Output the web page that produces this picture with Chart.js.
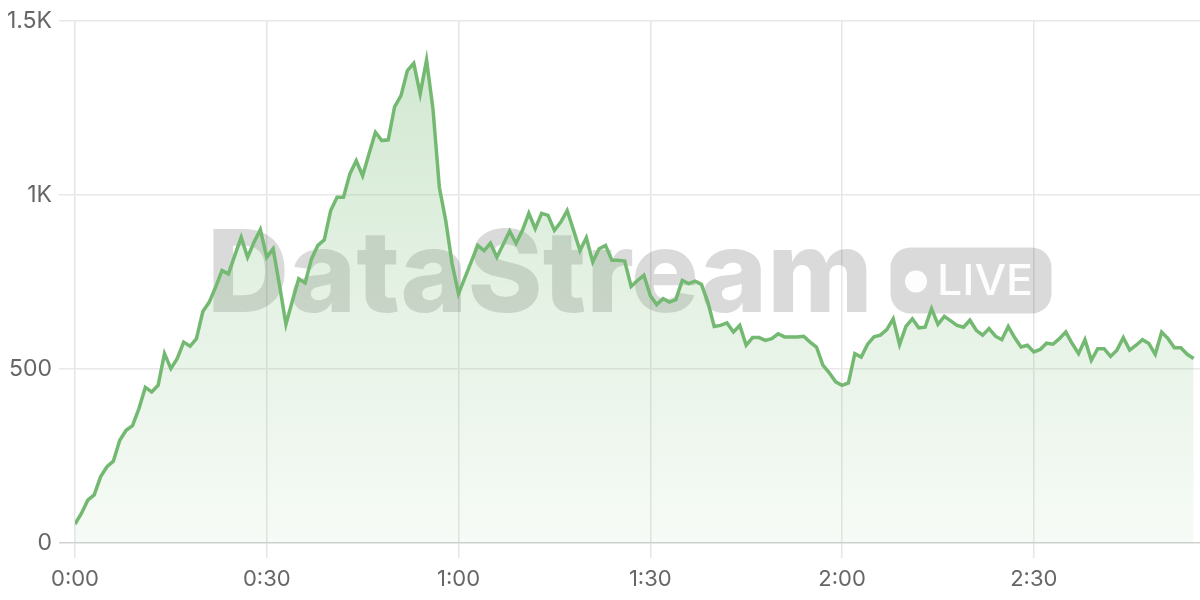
<!DOCTYPE html>
<html>
<head>
<meta charset="utf-8">
<title>DataStream LIVE</title>
<script src="https://cdn.jsdelivr.net/npm/chart.js@4/dist/chart.umd.min.js"></script>
<style>
  html, body { margin: 0; padding: 0; background: #fff; }
  #wrap { width: 1200px; height: 600px; position: relative; }
</style>
</head>
<body>
<div id="wrap"><canvas id="chart"></canvas></div>
<script>
// Valores por segundo
const values = [
  54, 85, 123, 138, 190, 219, 235, 295, 324, 337,
  386, 447, 434, 453, 544, 501, 530, 577, 565, 587,
  665, 692, 735, 783, 773, 826, 878, 821, 864, 900,
  821, 845, 740, 628, 695, 759, 747, 816, 855, 871,
  955, 993, 993, 1060, 1098, 1055, 1118, 1180, 1156, 1158,
  1253, 1285, 1357, 1378, 1290, 1387, 1247, 1022, 926, 802,
  716, 762, 808, 855, 840, 861, 821, 858, 896, 861,
  898, 947, 903, 947, 941, 898, 922, 955, 898, 840,
  877, 807, 845, 855, 812, 812, 810, 737, 754, 769,
  711, 685, 702, 692, 699, 754, 745, 752, 743, 692,
  622, 625, 632, 606, 625, 568, 590, 590, 582, 587,
  601, 592, 592, 592, 594, 577, 563, 511, 489, 463,
  453, 460, 544, 534, 571, 592, 597, 613, 644, 570,
  622, 644, 618, 620, 673, 628, 651, 638, 625, 620,
  640, 611, 597, 616, 594, 584, 622, 590, 563, 568,
  549, 556, 574, 571, 587, 606, 573, 544, 584, 525,
  558, 558, 536, 554, 590, 554, 568, 584, 573, 542,
  606, 587, 561, 561, 542, 530
];
const seconds = values.map((_, i) => i);
const yTicks = [0, 500, 1000, 1500];
const xTickStep = 30;

const LINE_COLOR = 'rgb(116, 185, 114)';
const FONT = 'Inter, "Noto Sans", sans-serif';

// texto esticado até a largura pedida
function fitText(ctx, text, x, y, width) {
  const w = ctx.measureText(text).width;
  ctx.save();
  ctx.translate(x, y);
  ctx.scale(width / w, 1);
  ctx.fillText(text, 0, 0);
  ctx.restore();
}

// marca d'água desenhada antes das séries
const watermark = {
  id: 'watermark',
  beforeDatasetsDraw(chart) {
    const ctx = chart.ctx;
    ctx.save();
    ctx.fillStyle = 'rgba(0, 0, 0, 0.145)';
    ctx.font = '800 114px ' + FONT;
    ctx.textBaseline = 'alphabetic';
    ctx.textAlign = 'left';
    fitText(ctx, 'DataStream', 207, 311.5, 666);

    // pílula LIVE
    ctx.beginPath();
    ctx.roundRect(890.5, 247.5, 161, 66, 20);
    ctx.fill();

    ctx.fillStyle = 'rgba(255, 255, 255, 0.95)';
    ctx.beginPath();
    ctx.arc(916, 281.5, 11, 0, Math.PI * 2);
    ctx.fill();
    ctx.font = '500 43px ' + FONT;
    fitText(ctx, 'LIVE', 937, 295, 96);
    ctx.restore();
  }
};

function fmtTime(v) {
  const m = Math.floor(v / 60);
  const s = v % 60;
  return m + ':' + String(s).padStart(2, '0');
}

function fmtK(v) {
  if (v >= 1000) return (v / 1000) + 'K';
  return String(v);
}

const ctx = document.getElementById('chart').getContext('2d');

new Chart(ctx, {
  type: 'line',
  data: {
    datasets: [{
      data: values.map((v, i) => ({ x: seconds[i], y: v })),
      borderColor: LINE_COLOR,
      borderWidth: 3.5,
      pointRadius: 0,
      tension: 0,
      fill: 'origin',
      backgroundColor(context) {
        const area = context.chart.chartArea;
        if (!area) return 'rgba(116, 185, 114, 0.2)';
        const g = context.chart.ctx.createLinearGradient(0, area.top, 0, area.bottom);
        g.addColorStop(0, 'rgba(116, 185, 114, 0.34)');
        g.addColorStop(1, 'rgba(116, 185, 114, 0.06)');
        return g;
      }
    }]
  },
  options: {
    responsive: true,
    maintainAspectRatio: false,
    animation: false,
    layout: { padding: { top: 20, right: 0, bottom: 0, left: 0 } },
    plugins: {
      legend: { display: false },
      tooltip: { enabled: false }
    },
    scales: {
      x: {
        type: 'linear',
        min: 0,
        max: 176,
        border: { display: false },
        grid: { color: '#e6e6e6', lineWidth: 1.5, tickLength: 15 },
        ticks: {
          stepSize: xTickStep,
          includeBounds: false,
          color: '#666',
          padding: 8,
          font: { family: FONT, size: 22 },
          callback: v => fmtTime(v)
        },
        afterFit: s => { s.height = 57; }
      },
      y: {
        min: 0,
        max: 1500,
        border: { display: false },
        grid: {
          color: c => c.tick && c.tick.value === 0 ? '#d2d2d2' : '#e8e8e8',
          lineWidth: 1.5,
          tickLength: 16
        },
        ticks: {
          stepSize: 500,
          color: '#666',
          padding: 7,
          font: { family: FONT, size: 23 },
          callback: v => yTicks.includes(v) ? fmtK(v) : null
        },
        afterFit: s => { s.width = 75; }
      }
    }
  },
  plugins: [watermark]
});
</script>
</body>
</html>
